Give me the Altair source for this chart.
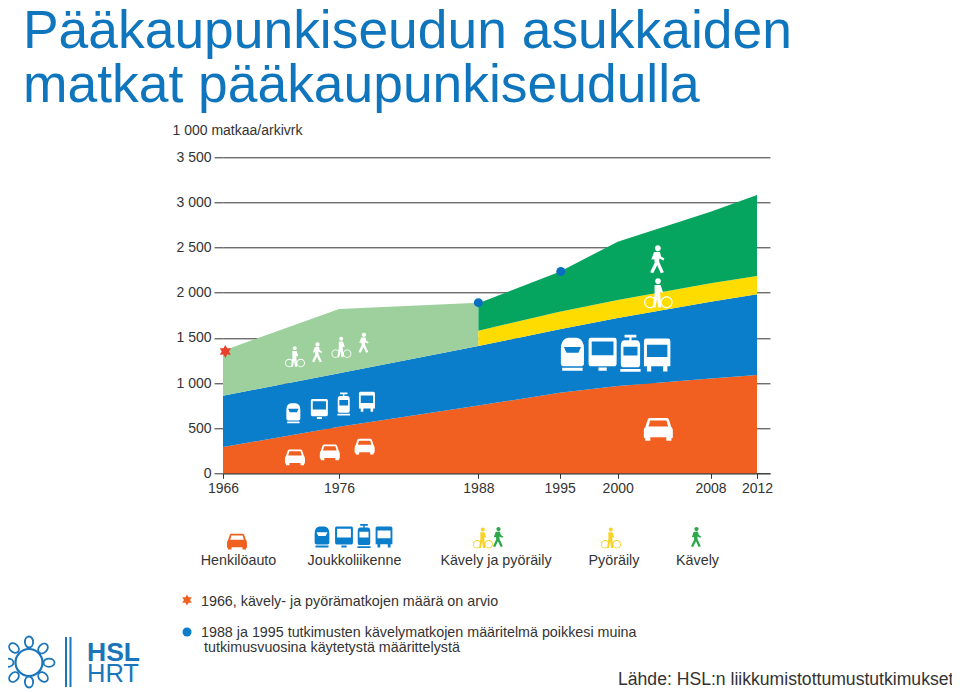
import altair as alt
import pandas as pd

# ---------- chart data ----------
years = [1966, 1976, 1988, 1995, 2000, 2008, 2012]
car_top = [290, 516, 750, 893, 967, 1050, 1089]
transit_top = [860, 1107, 1410, 1595, 1720, 1900, 1982]
early_years = [1966, 1976, 1988]
early_bottom = [860, 1107, 1410]
early_top = [1358, 1819, 1889]
late_years = [1988, 1995, 2000, 2008, 2012]
late_transit = [1410, 1595, 1720, 1900, 1982]
cycle_top = [1580, 1790, 1919, 2104, 2185]
walk_top = [1883, 2233, 2565, 2897, 3082]
y_ticks = [0, 500, 1000, 1500, 2000, 2500, 3000, 3500]

star_year, star_value = [1966.2], [1350]
dot_years, dot_values = [1988, 1995.1], [1890, 2235]

# icon positions in data units
car_icons = ([1972.2, 1975.2, 1978.2, 2003.5], [184, 239, 302, 498], [20, 20, 20, 29])
train_icons = ([1972.06, 1996.1], [664, 1318], [20, 33])
metro_icons = ([1974.3, 1998.7], [712, 1318], [20, 33])
tram_icons = ([1976.4, 2001.1], [767, 1329], [23, 37])
bus_icons = ([1978.4, 2003.4], [793, 1310], [20, 33])
ped_cycle_icons = ([1972.2, 1976.2, 2003.5], [1291, 1395, 1993], [21, 21, 30])
ped_walk_icons = ([1974.1, 1978.1, 2003.4], [1340, 1446, 2370], [20, 20, 28])

# ---------- colours ----------
ORANGE = "#f26021"
BLUE = "#0a7dcb"
PALE = "#9dd09c"
GREEN = "#05a560"
YELLOW = "#fedc00"
TITLE_BLUE = "#0f75bd"
INK = "#333333"
FONT = "Liberation Sans"

# ---------- icon shapes (unit square -1..1) ----------
CAR = ("M-0.6,-0.72 L0.6,-0.72 Q0.72,-0.72 0.78,-0.45 L0.88,-0.12 Q1,0 1,0.2 L1,0.62 Q1,0.7 0.9,0.7 "
       "L0.9,0.85 L0.55,0.85 L0.55,0.62 L-0.55,0.62 L-0.55,0.85 L-0.9,0.85 L-0.9,0.7 Q-1,0.7 -1,0.62 "
       "L-1,0.2 Q-1,0 -0.88,-0.12 L-0.78,-0.45 Q-0.72,-0.72 -0.6,-0.72 Z "
       "M-0.56,-0.54 L-0.68,-0.12 L0.68,-0.12 L0.56,-0.54 Z")
TRAIN = ("M-0.25,-1 L0.25,-1 Q0.7,-0.95 0.7,-0.3 L0.7,0.55 Q0.7,0.72 0.5,0.72 L-0.5,0.72 Q-0.7,0.72 -0.7,0.55 "
         "L-0.7,-0.3 Q-0.7,-0.95 -0.25,-1 Z "
         "M-0.52,-0.45 L-0.36,-0.1 L0.36,-0.1 L0.52,-0.45 Z "
         "M-0.62,0.82 L0.62,0.82 L0.62,1 L-0.62,1 Z")
METRO = ("M-0.72,-1 L0.72,-1 Q0.85,-1 0.85,-0.85 L0.85,0.55 Q0.85,0.72 0.7,0.72 L-0.7,0.72 Q-0.85,0.72 -0.85,0.55 L-0.85,-0.85 Q-0.85,-1 -0.72,-1 Z "
         "M-0.66,-0.78 L-0.66,0.05 L0.66,0.05 L0.66,-0.78 Z "
         "M-0.25,0.8 L0.25,0.8 L0.25,1 L-0.25,1 Z")
TRAM = ("M-0.06,-0.85 L-0.32,-0.85 L-0.32,-1 L0.32,-1 L0.32,-0.85 L0.06,-0.85 L0.06,-0.7 L0.3,-0.7 Q0.52,-0.7 0.52,-0.42 "
        "L0.52,0.6 Q0.52,0.76 0.35,0.76 L-0.35,0.76 Q-0.52,0.76 -0.52,0.6 L-0.52,-0.42 Q-0.52,-0.7 -0.3,-0.7 L-0.06,-0.7 Z "
        "M-0.38,-0.35 L-0.38,0.12 L0.38,0.12 L0.38,-0.35 Z "
        "M-0.55,0.85 L0.55,0.85 L0.55,1 L-0.55,1 Z")
BUS = ("M-0.65,-1 L0.65,-1 Q0.8,-1 0.8,-0.85 L0.8,0.68 L0.62,0.68 L0.62,1 L0.36,1 L0.36,0.68 L-0.36,0.68 "
       "L-0.36,1 L-0.62,1 L-0.62,0.68 L-0.8,0.68 L-0.8,-0.85 Q-0.8,-1 -0.65,-1 Z "
       "M-0.62,-0.62 L-0.62,0.12 L0.62,0.12 L0.62,-0.62 Z")
WALK = ("M0.05,-1 A0.21,0.21 0 1 1 0.05,-0.58 A0.21,0.21 0 1 1 0.05,-1 Z "
        "M-0.22,-0.52 L0.2,-0.52 L0.28,-0.2 L0.52,-0.05 L0.44,0.08 L0.15,-0.06 L0.15,0.2 L0.48,0.92 L0.26,1 "
        "L0,0.42 L-0.28,1 L-0.5,0.92 L-0.18,0.25 L-0.2,0 L-0.42,0.02 Z")
CYCLE = ("M-0.02,-1 A0.19,0.19 0 1 1 -0.02,-0.62 A0.19,0.19 0 1 1 -0.02,-1 Z "
         "M-0.25,-0.55 L0.15,-0.55 L0.32,-0.05 L0.12,-0.05 L0.2,0.95 L0,0.95 L-0.08,0.35 L-0.2,0.95 L-0.38,0.95 L-0.25,0.1 Z "
         "M-0.55,0.2 A0.4,0.4 0 1 1 -0.55,1 A0.4,0.4 0 1 1 -0.55,0.2 Z M-0.55,0.28 A0.32,0.32 0 1 0 -0.55,0.92 A0.32,0.32 0 1 0 -0.55,0.28 Z "
         "M0.55,0.2 A0.4,0.4 0 1 1 0.55,1 A0.4,0.4 0 1 1 0.55,0.2 Z M0.55,0.28 A0.32,0.32 0 1 0 0.55,0.92 A0.32,0.32 0 1 0 0.55,0.28 Z")
STAR = ("M0,-1 L0.28,-0.48 L0.87,-0.5 L0.55,0 L0.87,0.5 L0.28,0.48 L0,1 L-0.28,0.48 L-0.87,0.5 L-0.55,0 L-0.87,-0.5 L-0.28,-0.48 Z")
PETAL = "M0,-1 A0.75,1 0 1 1 0,1 A0.75,1 0 1 1 0,-1 Z"

# ---------- layout (page pixels) ----------
PLOT_LEFT, PLOT_TOP, PLOT_W, PLOT_H = 223, 157.3, 547, 316
X_END = 2013.12

one = alt.Data(values=[{}])


def px(x):
    return x - PLOT_LEFT


def py(y):
    return y - PLOT_TOP


def text(x, y, s, size=14.3, color=INK, align="left", weight="normal", font=FONT):
    return alt.Chart(one).mark_text(
        align=align, baseline="alphabetic", fontSize=size, color=color, fontWeight=weight, font=font
    ).encode(x=alt.value(px(x)), y=alt.value(py(y)), text=alt.value(s))


def glyph(x, y, shape, size, color, **kw):
    return alt.Chart(one).mark_point(
        shape=shape, size=size * size, color=color, filled=kw.pop("filled", True), opacity=1, **kw
    ).encode(x=alt.value(px(x)), y=alt.value(py(y)))


xs = alt.Scale(domain=[1966, X_END], nice=False, zero=False)
ys = alt.Scale(domain=[0, 3500], nice=False)
x_enc = alt.X(
    "year:Q", scale=xs,
    axis=alt.Axis(values=years, format="d", title=None, grid=False, tickSize=5, tickColor=INK,
                  domainColor=INK, labelColor=INK, labelFontSize=14, labelFont=FONT,
                  labelPadding=3, labelOverlap=False, labelFlush=False),
)
y_enc = alt.Y(
    "top:Q", scale=ys,
    axis=alt.Axis(values=y_ticks, title="1 000 matkaa/arkivrk", titleAngle=0, titleAlign="left",
                  titleBaseline="alphabetic", titleX=-51, titleY=-23, titleFontSize=14,
                  titleFontWeight="normal", titleFont=FONT, titleColor=INK,
                  grid=True, gridColor=INK, gridWidth=1, domain=False, tickSize=9, tickColor=INK,
                  labelColor=INK, labelFontSize=14, labelFont=FONT, labelPadding=3,
                  labelExpr="replace(format(datum.value, ','), ',', ' ')"),
)


def band(xv, lower, upper, color):
    df = pd.DataFrame({"year": xv, "bottom": lower, "top": upper})
    return alt.Chart(df).mark_area(color=color, opacity=1, interpolate="linear").encode(
        x=x_enc, y=y_enc, y2=alt.Y2("bottom:Q")
    )


def icons(spec, shape, color="white"):
    df = pd.DataFrame({"year": spec[0], "top": spec[1], "s": [v * v for v in spec[2]]})
    return alt.Chart(df).mark_point(shape=shape, filled=True, color=color, opacity=1).encode(
        x=x_enc,
        y=y_enc,
        size=alt.Size("s:Q", scale=None, legend=None),
    )


layers = [
    band(years, [0] * len(years), car_top, ORANGE),
    band(years, car_top, transit_top, BLUE),
    band(early_years, early_bottom, early_top, PALE),
    band(late_years, late_transit, cycle_top, YELLOW),
    band(late_years, cycle_top, walk_top, GREEN),
    icons(car_icons, CAR),
    icons(train_icons, TRAIN),
    icons(metro_icons, METRO),
    icons(tram_icons, TRAM),
    icons(bus_icons, BUS),
    icons(ped_cycle_icons, CYCLE),
    icons(ped_walk_icons, WALK),
    icons((star_year, star_value, [13]), STAR, "#e8402a"),
    icons((dot_years, dot_values, [9, 9]), "circle", "#0a6fc0"),
]

# ---------- legend ----------
layers += [
    glyph(237, 541, CAR, 20, ORANGE),
    glyph(322, 537, TRAIN, 21, BLUE),
    glyph(344, 537, METRO, 21, BLUE),
    glyph(364, 536, TRAM, 24, BLUE),
    glyph(384, 537, BUS, 21, BLUE),
    glyph(483, 538, CYCLE, 21, "#f5d327"),
    glyph(498, 537, WALK, 20, "#2aa84a"),
    glyph(611, 538, CYCLE, 21, "#f5d327"),
    glyph(696, 537, WALK, 20, "#2aa84a"),
    text(238.5, 565, "Henkilöauto", align="center"),
    text(354.5, 565, "Joukkoliikenne", align="center"),
    text(496, 565, "Kävely ja pyöräily", align="center"),
    text(614, 565, "Pyöräily", align="center"),
    text(697.5, 565, "Kävely", align="center"),
    glyph(187, 600, STAR, 11, "#f26021"),
    text(201, 605.5, "1966, kävely- ja pyörämatkojen määrä on arvio"),
    glyph(187, 632, "circle", 9, "#0a7dcb"),
    text(201, 637, "1988 ja 1995 tutkimusten kävelymatkojen määritelmä poikkesi muina"),
    text(204, 652, "tutkimusvuosina käytetystä määrittelystä"),
]

# ---------- headline, source ----------
layers += [
    text(23, 48, "Pääkaupunkiseudun asukkaiden", 53.4, TITLE_BLUE),
    text(23, 102, "matkat pääkaupunkiseudulla", 53.4, TITLE_BLUE),
    text(618, 685, "Lähde: HSL:n liikkumistottumustutkimukset", 17.6),
]

# ---------- logo ----------
LOGO = "#1a75bb"
petal_x = [29, 43, 49, 43, 29, 14, 8, 14]
petal_y = [642, 648.5, 662.7, 677, 682, 677, 662.7, 648]
petal_a = [0, 45, 90, 135, 180, 225, 270, 315]
layers.append(glyph(29, 662.5, "circle", 27, LOGO, filled=False, strokeWidth=2.2))
for a, b, c in zip(petal_x, petal_y, petal_a):
    layers.append(glyph(a, b, PETAL, 11, LOGO, filled=False, strokeWidth=1.8, angle=c))
for lx in [66, 70.5]:
    layers.append(
        alt.Chart(one).mark_rule(color=LOGO, strokeWidth=2).encode(
            x=alt.value(px(lx)), y=alt.value(py(637)), y2=alt.value(py(687))
        )
    )
layers += [
    text(87, 660.7, "HSL", 26.5, LOGO, weight="bold"),
    text(87, 682.3, "HRT", 25.5, LOGO),
]

chart = (
    alt.layer(*layers)
    .resolve_scale(x="shared", y="shared")
    .properties(
        width=PLOT_W,
        height=PLOT_H,
        padding={"left": PLOT_LEFT - 8, "top": PLOT_TOP - 8, "right": 944 - (PLOT_LEFT - 8) - PLOT_W,
                 "bottom": 684 - (PLOT_TOP - 8) - PLOT_H},
        autosize=alt.AutoSizeParams(type="none"),
        background="white",
    )
    .configure_view(stroke=None)
)

chart.save("out.html", embed_options={"renderer": "svg", "actions": False})
